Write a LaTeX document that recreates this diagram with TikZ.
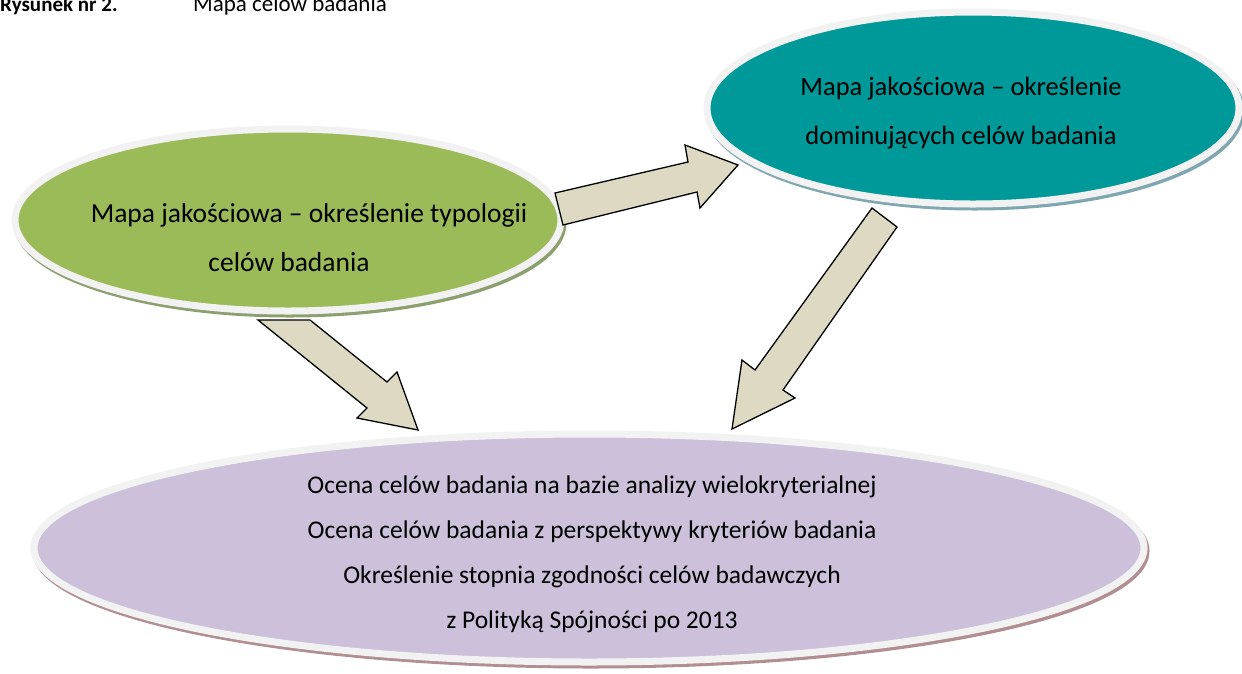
\documentclass[tikz,border=0pt]{standalone}
\usepackage{fontspec}
\setmainfont{Carlito}
\usetikzlibrary{shapes.geometric}
\definecolor{greenF}{HTML}{9BBB59}
\definecolor{greenS}{HTML}{8C9F6E}
\definecolor{tealF}{HTML}{009999}
\definecolor{tealS}{HTML}{7FA7B2}
\definecolor{purpF}{HTML}{CCC0DA}
\definecolor{purpS}{HTML}{B08E92}
\definecolor{rimC}{HTML}{F2F2F2}
\definecolor{arrF}{HTML}{DDD9C3}
\tikzset{
  blob/.style={ellipse, draw=rimC, line width=7pt, inner sep=0pt},
  blobshadow/.style={ellipse, fill=#1, draw=#1, line width=7pt, inner sep=0pt},
  blockarrow/.style={fill=arrF, draw=black, line width=1.3pt, line join=miter},
  txtg/.style={align=center, inner sep=0pt, font=\fontsize{27.5}{49}\selectfont},
  txtt/.style={align=center, inner sep=0pt, font=\fontsize{26.5}{49}\selectfont},
  txtp/.style={align=center, inner sep=0pt, font=\fontsize{25.5}{45}\selectfont}
}
\begin{document}
\begin{tikzpicture}[x=1pt,y=-1pt]
\useasboundingbox (0,0) rectangle (1242,673);
% title
\node[anchor=base west, inner sep=0pt, font=\fontsize{21}{24}\selectfont\bfseries] (t1) at (0,11) {Rysunek nr 2.};
\node[anchor=base west, inner sep=0pt, font=\fontsize{23}{26}\selectfont] (t2) at (193,11) {Mapa celów badania};
% shadows
\node[blobshadow=greenS, minimum width=546pt, minimum height=182pt] (gs) at (290,223) {};
\node[blobshadow=tealS, minimum width=532pt, minimum height=192pt] (ts) at (975,111) {};
\node[blobshadow=purpS, minimum width=1110pt, minimum height=228pt] (ps) at (591,551) {};
% ellipses
\node[blob, fill=greenF, minimum width=546pt, minimum height=182pt] (g) at (288,220) {};
\node[blob, fill=tealF, minimum width=532pt, minimum height=192pt] (t) at (973,108) {};
\node[blob, fill=purpF, minimum width=1110pt, minimum height=228pt] (p) at (589,548) {};
% texts
\node[txtg] (gt) at (309,238) {Mapa jakościowa – określenie typologii\\celów badania\hspace*{40pt}};
\node[txtt] (tt) at (961,113) {Mapa jakościowa – określenie\\dominujących celów badania};
\node[txtp] (pt) at (592,554) {Ocena celów badania na bazie analizy wielokryterialnej\\Ocena celów badania z perspektywy kryteriów badania\\Określenie stopnia zgodności celów badawczych\\z Polityką Spójności po 2013};
% block arrows
\draw[blockarrow] (555,193) -- (688,162) -- (685,145) -- (738,165) -- (700,208) -- (697,192) -- (563,225) -- cycle;
\draw[blockarrow] (258,320) -- (310,320) -- (387,382) -- (397,372) -- (418,430) -- (357,418) -- (367,408) -- cycle;
\draw[blockarrow] (872,208) -- (897,227) -- (783,390) -- (795,398) -- (732,429) -- (742,360) -- (755,370) -- cycle;
\end{tikzpicture}
\end{document}
